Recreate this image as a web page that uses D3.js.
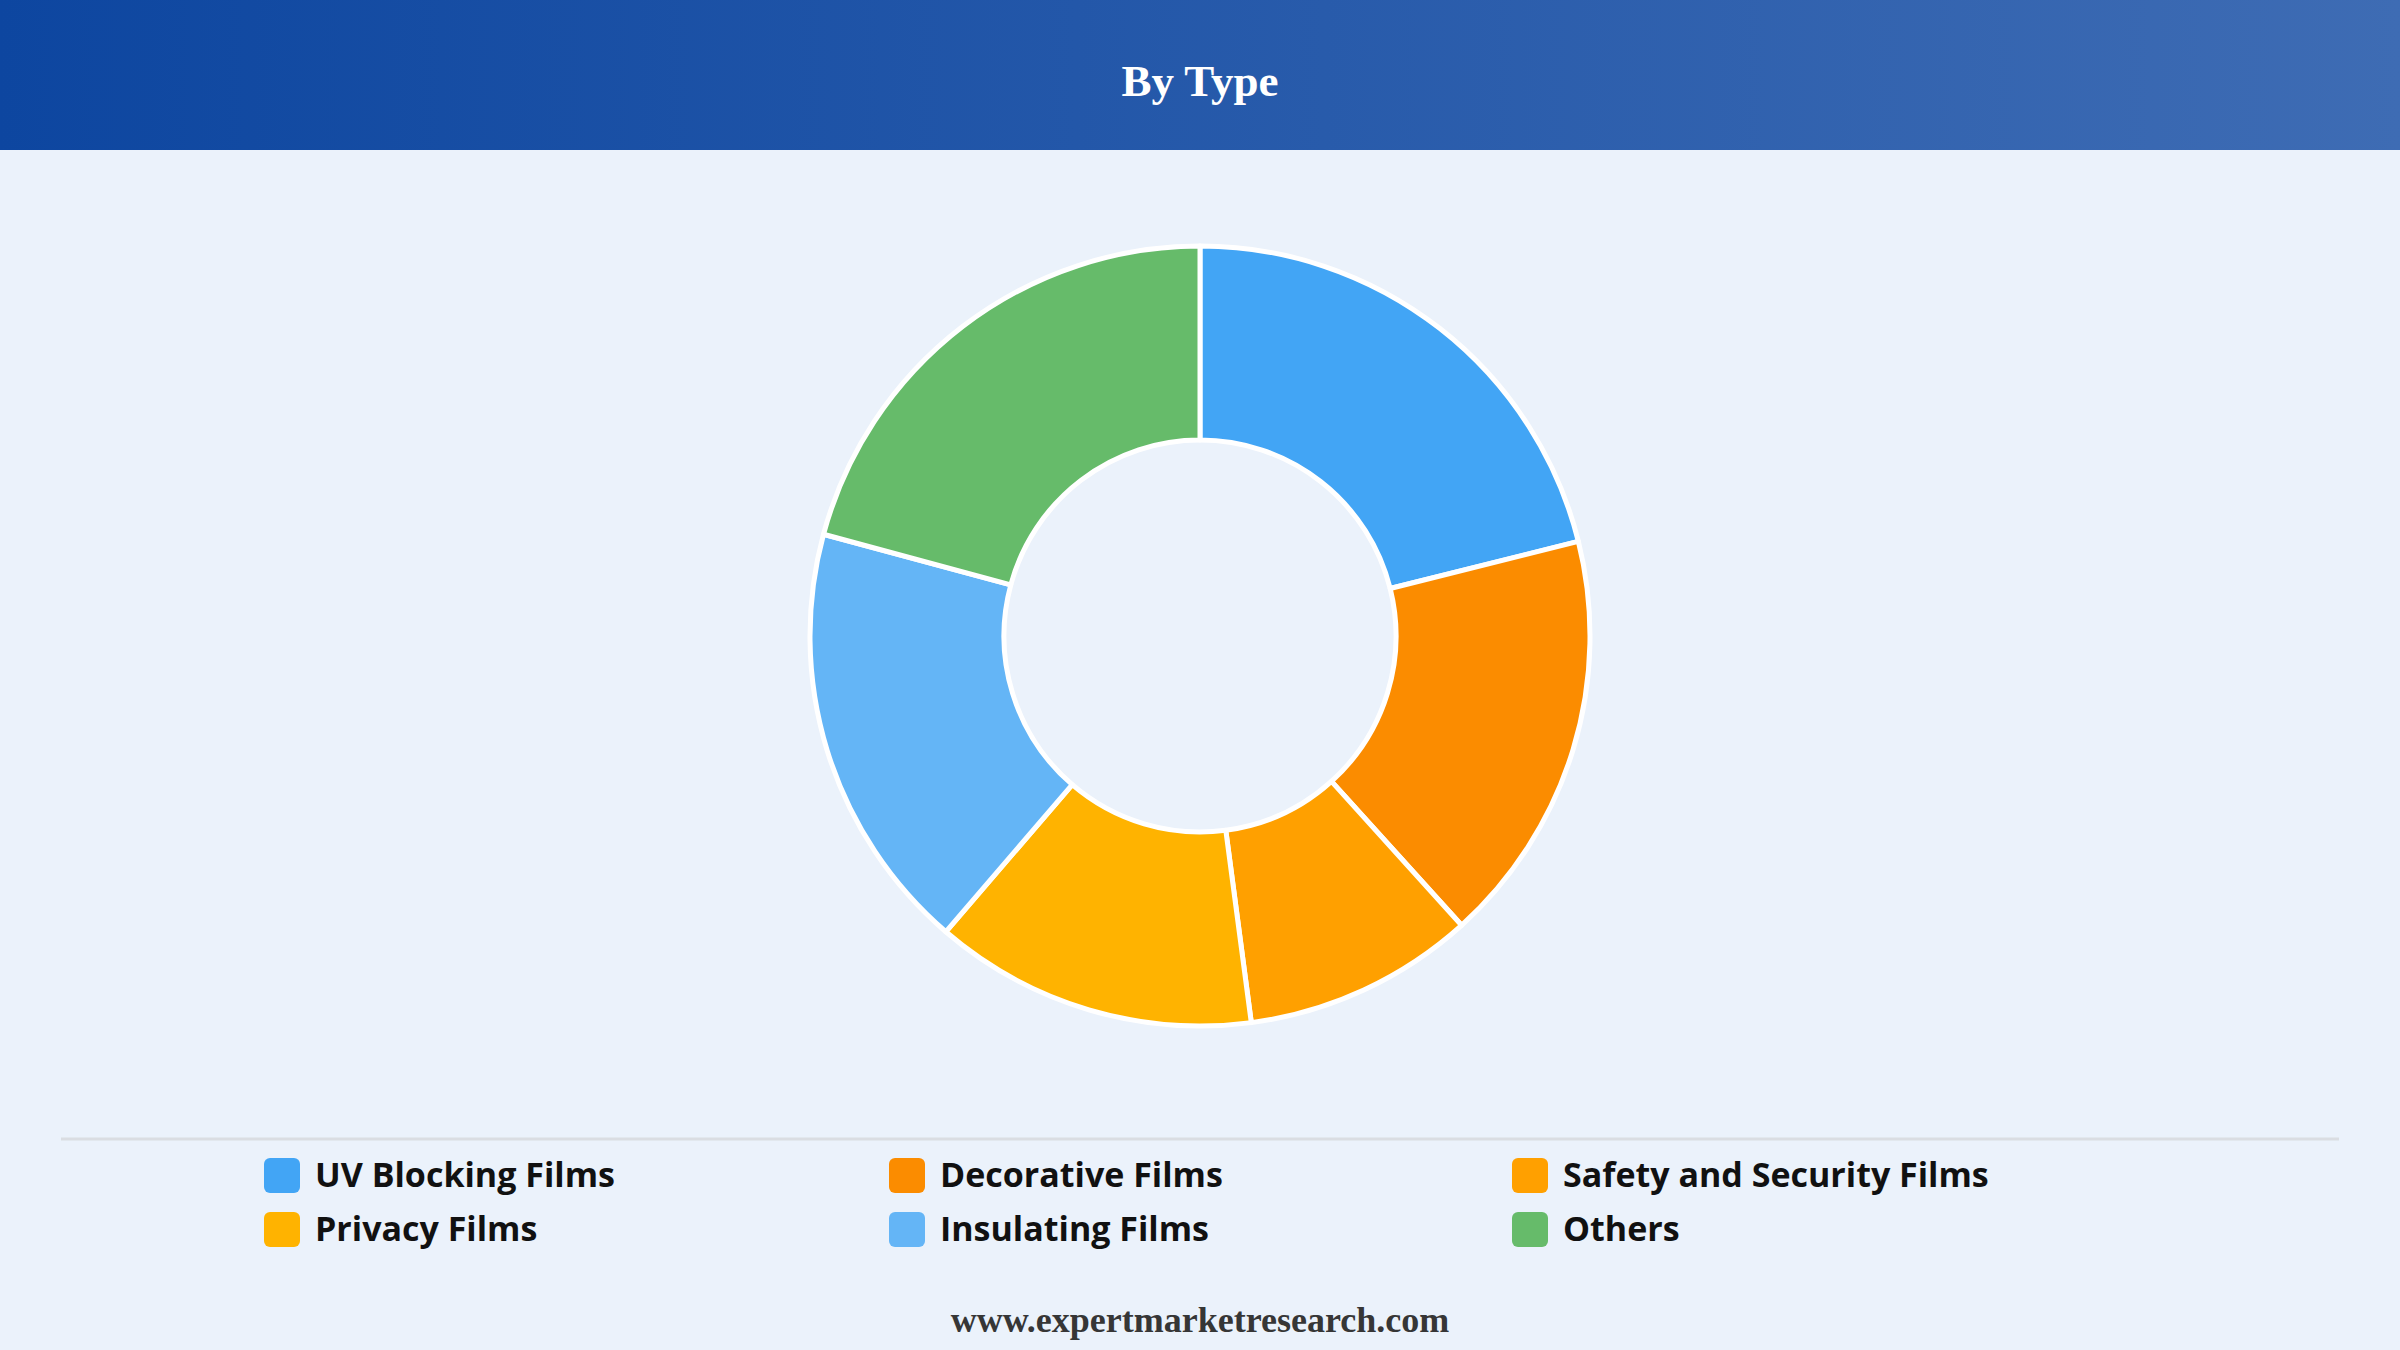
<!DOCTYPE html>
<html>
<head>
<meta charset="utf-8">
<script src="https://cdn.jsdelivr.net/npm/d3@7"></script>
<style>
  html, body { margin: 0; padding: 0; background: #EBF2FB; }
  svg { display: block; }
</style>
</head>
<body>
<svg id="chart" width="2400" height="1350"></svg>
<script>
const title = "By Type";
const footer = "www.expertmarketresearch.com";
const categories = ["UV Blocking Films", "Decorative Films", "Safety and Security Films", "Privacy Films", "Insulating Films", "Others"];
const values = [21.1, 17.2, 9.6, 13.4, 17.9, 20.8];
const colors = ["#42A5F5", "#FB8C00", "#FFA000", "#FFB300", "#64B5F6", "#66BB6A"];

const W = 2400, H = 1350;
const svg = d3.select("#chart");

const defs = svg.append("defs");
const grad = defs.append("linearGradient").attr("id", "hdr").attr("x1", "0%").attr("x2", "100%").attr("y1", "0%").attr("y2", "0%");
grad.append("stop").attr("offset", "0%").attr("stop-color", "#0D46A0");
grad.append("stop").attr("offset", "100%").attr("stop-color", "#3E6CB4");

svg.append("rect").attr("x", 0).attr("y", 0).attr("width", W).attr("height", H).attr("fill", "#EBF2FB");
svg.append("rect").attr("x", 0).attr("y", 0).attr("width", W).attr("height", 150).attr("fill", "url(#hdr)");
svg.append("text").attr("x", W / 2).attr("y", 96).attr("text-anchor", "middle")
  .attr("font-family", "'Liberation Serif', 'Times New Roman', serif").attr("font-weight", "bold")
  .attr("font-size", 45).attr("fill", "#fff").text(title);

// donut
const cx = 1200, cy = 636;
const pie = d3.pie().sort(null).value(d => d);
const arc = d3.arc().innerRadius(196).outerRadius(390);
const g = svg.append("g").attr("transform", `translate(${cx},${cy})`);
g.selectAll("path").data(pie(values)).join("path")
  .attr("d", arc)
  .attr("fill", (d, i) => colors[i])
  .attr("stroke", "#fff").attr("stroke-width", 5).attr("stroke-linejoin", "round");

// divider
svg.append("line").attr("x1", 61).attr("x2", 2339).attr("y1", 1139).attr("y2", 1139)
  .attr("stroke", "#DADDE2").attr("stroke-width", 3);

// legend
const colX = [264, 889, 1512];
const rowY = [1158, 1212];
const lg = svg.append("g");
categories.forEach((c, i) => {
  const x = colX[i % 3], y = rowY[Math.floor(i / 3)];
  lg.append("rect").attr("x", x).attr("y", y).attr("width", 36).attr("height", 35)
    .attr("rx", 6).attr("fill", colors[i]);
  lg.append("text").attr("x", x + 51).attr("y", y + 29)
    .attr("font-family", "'Open Sans', 'Noto Sans', sans-serif").attr("font-weight", 700)
    .attr("font-size", 34).attr("fill", "#111").text(c);
});

svg.append("text").attr("x", W / 2).attr("y", 1332).attr("text-anchor", "middle")
  .attr("font-family", "'Liberation Serif', 'Times New Roman', serif").attr("font-weight", "bold")
  .attr("font-size", 36).attr("fill", "#363636").text(footer);
</script>
</body>
</html>
